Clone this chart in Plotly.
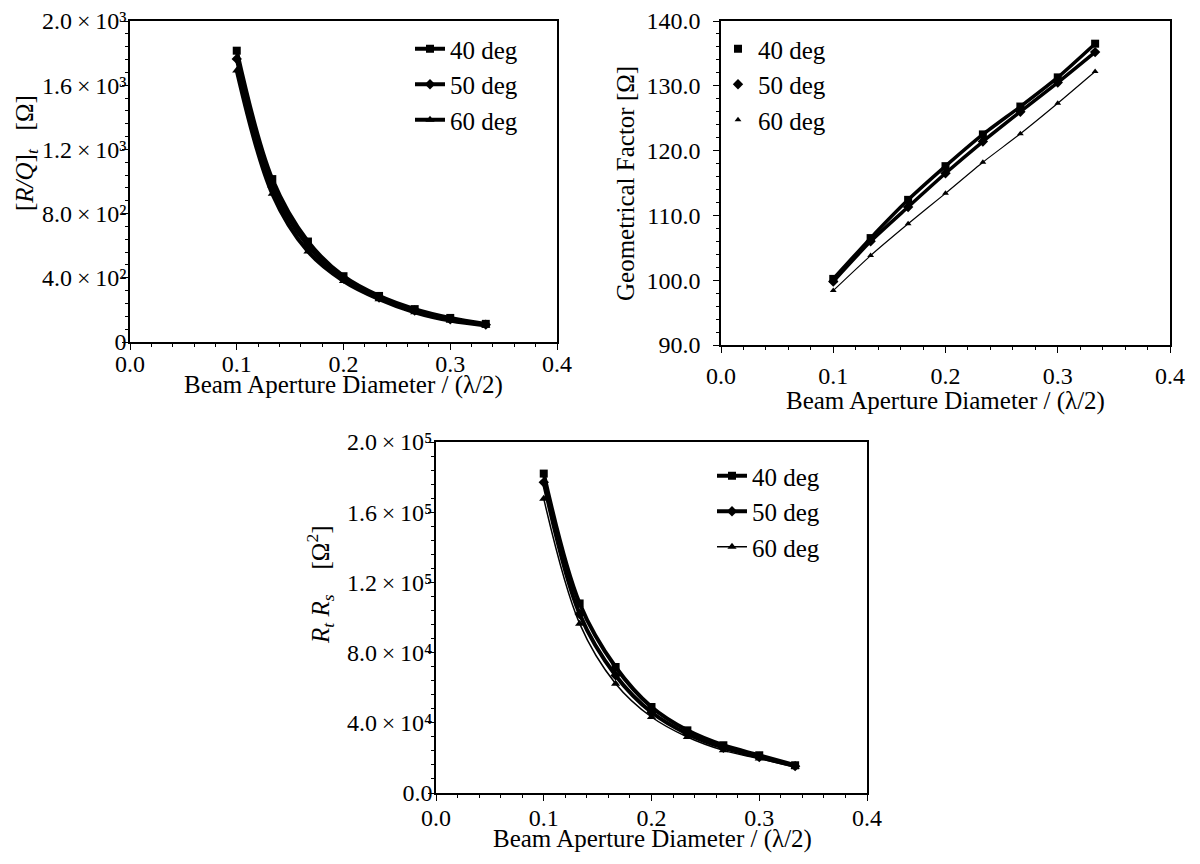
import plotly.graph_objects as go

# ---------------- data ----------------
aperture = [0.1, 0.1333, 0.1667, 0.2, 0.2333, 0.2667, 0.3, 0.3333]
series_names = ["40 deg", "50 deg", "60 deg"]

rq_40 = [1815, 1015, 626, 410, 287, 205, 150, 113]
rq_50 = [1764, 965, 600, 395, 277, 196, 142, 108]
rq_60 = [1692, 923, 564, 380, 267, 185, 133, 103]

gf_40 = [100.2, 106.5, 112.4, 117.6, 122.5, 126.8, 131.3, 136.5]
gf_50 = [99.8, 106.0, 111.3, 116.5, 121.4, 126.0, 130.5, 135.2]
gf_60 = [98.4, 103.8, 108.7, 113.4, 118.2, 122.6, 127.3, 132.2]

rr_40 = [182000, 108000, 71800, 49000, 35700, 27200, 21500, 15800]
rr_50 = [177000, 102000, 67000, 46000, 33700, 25800, 20500, 15300]
rr_60 = [167700, 96500, 62300, 43300, 31900, 24300, 19600, 14800]

x_tickvals = [0.0, 0.1, 0.2, 0.3, 0.4]
x_ticktext = ["0.0", "0.1", "0.2", "0.3", "0.4"]

rq_tickvals = [0, 400, 800, 1200, 1600, 2000]
rq_ticktext = ["0", "4.0\u2009×\u200910²", "8.0\u2009×\u200910²", "1.2\u2009×\u200910³",
               "1.6\u2009×\u200910³", "2.0\u2009×\u200910³"]
gf_tickvals = [90, 100, 110, 120, 130, 140]
gf_ticktext = ["90.0", "100.0", "110.0", "120.0", "130.0", "140.0"]
rr_tickvals = [0, 40000, 80000, 120000, 160000, 200000]
rr_ticktext = ["0.0", "4.0\u2009×\u200910⁴", "8.0\u2009×\u200910⁴", "1.2\u2009×\u200910⁵",
               "1.6\u2009×\u200910⁵", "2.0\u2009×\u200910⁵"]

# ---------------- style ----------------
FONT = "Liberation Serif, Times New Roman, DejaVu Serif, serif"
OFF = 8                      # page body margin of the html page
W, H = 1200 - OFF, 864 - OFF
symbols = ["square", "diamond", "triangle-up"]


def px_x(p):
    return (p - OFF) / W


def px_y(p):
    return 1 - (p - OFF) / H


fig = go.Figure()

# Panel 1: R/Q
for i, (name, ys) in enumerate(zip(series_names, [rq_40, rq_50, rq_60])):
    fig.add_trace(go.Scatter(
        x=aperture, y=ys, name=name, mode="lines+markers",
        line=dict(color="black", width=4, shape="spline", smoothing=1.0),
        marker=dict(symbol=symbols[i], size=8, color="black"),
        xaxis="x", yaxis="y", legend="legend", legendgroup="a%d" % i))

# Panel 2: Geometrical factor (lines + separate marker legend)
gf_widths = [3.5, 3.5, 1.2]
for i, (name, ys) in enumerate(zip(series_names, [gf_40, gf_50, gf_60])):
    fig.add_trace(go.Scatter(
        x=aperture, y=ys, mode="lines", showlegend=False,
        line=dict(color="black", width=gf_widths[i], shape="spline", smoothing=0.6),
        xaxis="x2", yaxis="y2", hoverinfo="skip"))
    fig.add_trace(go.Scatter(
        x=aperture, y=ys, name=name, mode="markers",
        marker=dict(symbol=symbols[i], size=8 if i < 2 else 6, color="black"),
        xaxis="x2", yaxis="y2", legend="legend2", legendgroup="b%d" % i))

# Panel 3: Rt*Rs
rr_widths = [4, 4, 1.5]
for i, (name, ys) in enumerate(zip(series_names, [rr_40, rr_50, rr_60])):
    fig.add_trace(go.Scatter(
        x=aperture, y=ys, name=name, mode="lines+markers",
        line=dict(color="black", width=rr_widths[i], shape="spline", smoothing=1.0),
        marker=dict(symbol=symbols[i], size=8, color="black"),
        xaxis="x3", yaxis="y3", legend="legend3", legendgroup="c%d" % i))

axis_common = dict(
    showline=True, linecolor="black", linewidth=1.5, mirror=True,
    ticks="outside", ticklen=6, tickwidth=1.2, tickcolor="black",
    showgrid=False, zeroline=False, automargin=False,
    ticklabeloverflow="allow",
    tickfont=dict(family=FONT, size=24, color="black"),
)


def xaxis(domain, anchor, standoff=0):
    return dict(axis_common, domain=domain, anchor=anchor, range=[0, 0.4],
                tickmode="array", tickvals=x_tickvals, ticktext=x_ticktext,
                ticklabelstandoff=standoff,
                minor=dict(ticks="outside", ticklen=3, dtick=0.02, tickcolor="black"))


def yaxis(domain, anchor, rng, tv, tt, mdt, standoff=0):
    return dict(axis_common, domain=domain, anchor=anchor, range=rng,
                tickmode="array", tickvals=tv, ticktext=tt,
                ticklabelstandoff=standoff,
                minor=dict(ticks="outside", ticklen=3, dtick=mdt, tickcolor="black"))


legend_common = dict(
    font=dict(family=FONT, size=25, color="black"),
    bgcolor="rgba(0,0,0,0)", borderwidth=0,
    xanchor="left", yanchor="top", tracegroupgap=0, itemwidth=30,
)

fig.update_layout(
    width=W, height=H,
    margin=dict(l=0, r=0, t=0, b=0, autoexpand=False),
    paper_bgcolor="white", plot_bgcolor="white",
    font=dict(family=FONT, color="black"),
    xaxis=xaxis([px_x(130), px_x(557)], "y", -7),
    yaxis=yaxis([px_y(342), px_y(21)], "x", [0, 2000], rq_tickvals, rq_ticktext, 80, -9),
    xaxis2=xaxis([px_x(721), px_x(1170)], "y2", 2),
    yaxis2=yaxis([px_y(345), px_y(21)], "x2", [90, 140], gf_tickvals, gf_ticktext, 2, 8),
    xaxis3=xaxis([px_x(436), px_x(867)], "y3", -4),
    yaxis3=yaxis([px_y(793), px_y(442)], "x3", [0, 200000], rr_tickvals, rr_ticktext, 8000, -9),
    legend=dict(legend_common, x=px_x(410), y=px_y(26)),
    legend2=dict(legend_common, x=px_x(718), y=px_y(26)),
    legend3=dict(legend_common, x=px_x(712), y=px_y(453)),
)

title_font = dict(family=FONT, size=25, color="black")
annotations = [
    dict(text="Beam Aperture Diameter / (λ/2)", x=px_x(343), y=px_y(385)),
    dict(text="Beam Aperture Diameter / (λ/2)", x=px_x(945), y=px_y(401)),
    dict(text="Beam Aperture Diameter / (λ/2)", x=px_x(652), y=px_y(839)),
    dict(text="[<i>R/Q</i>]<sub><i>t</i></sub>\u00a0\u00a0\u00a0[Ω]", x=px_x(27), y=px_y(153), textangle=-90),
    dict(text="Geometrical Factor [Ω]", x=px_x(625), y=px_y(184), textangle=-90),
    dict(text="<i>R<sub>t</sub></i>\u00a0<i>R<sub>s</sub></i>\u00a0\u00a0\u00a0\u00a0[Ω<sup>2</sup>]", x=px_x(320), y=px_y(585), textangle=-90),
]
for a in annotations:
    fig.add_annotation(xref="paper", yref="paper", showarrow=False,
                       xanchor="center", yanchor="middle", font=title_font, **a)

fig.write_html("out.html")
